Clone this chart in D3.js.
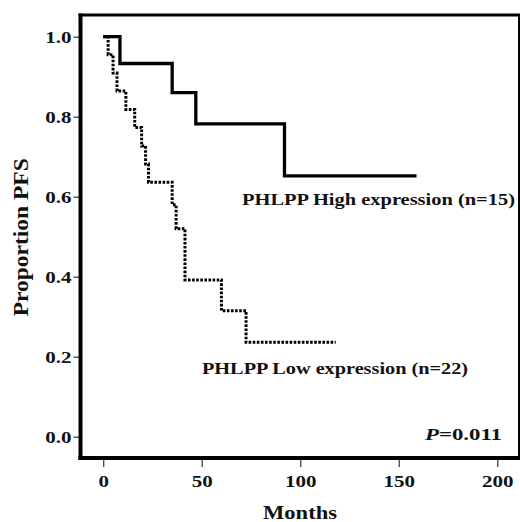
<!DOCTYPE html>
<html>
<head>
<meta charset="utf-8">
<script src="https://cdn.jsdelivr.net/npm/d3@7"></script>
<style>
  html, body { margin: 0; padding: 0; background: #fff; }
  svg { display: block; }
  text { font-family: "Liberation Serif", "Times New Roman", serif; font-weight: bold; fill: #111; }
</style>
</head>
<body>
<svg id="chart" width="520" height="522"></svg>
<script>
// ---- data ----
const highTimes = [0, 8.5, 35, 47, 92];
const highSurv  = [1.0, 0.933, 0.860, 0.782, 0.652];
const highEnd   = 159;

const lowTimes = [0, 2.5, 5, 7, 11.5, 16, 19.5, 21.5, 23, 35, 37, 41.5, 60, 72.5];
const lowSurv  = [1.0, 0.955, 0.909, 0.864, 0.818, 0.773, 0.727, 0.682, 0.636, 0.580, 0.520, 0.392, 0.315, 0.236];
const lowEnd   = 118;

const xTicks = [0, 50, 100, 150, 200];
const yTicks = [0.0, 0.2, 0.4, 0.6, 0.8, 1.0];

const highLabel = "PHLPP High expression (n=15)";
const lowLabel  = "PHLPP Low expression (n=22)";
const pLabel    = "=0.011";
const xTitle = "Months";
const yTitle = "Proportion PFS";

// ---- layout ----
const svg = d3.select("#chart");
const frame = { left: 80.5, right: 519, top: 15, bottom: 458 };
const x = d3.scaleLinear().domain([0, 200]).range([103.2, 497.3]);
const y = d3.scaleLinear().domain([0, 1]).range([436.7, 36.7]);
const SX = 1.2; // horizontal stretch of the original image text

function stretch(sel) {
  sel.attr("transform", function() {
    const tx = +this.getAttribute("x") || 0;
    return `translate(${tx},0) scale(${SX},1) translate(${-tx},0)`;
  });
}

// axes
const yAxis = d3.axisLeft(y).tickValues(yTicks).tickFormat(d3.format(".1f")).tickSize(7).tickPadding(2);
const gy = svg.append("g").attr("transform", `translate(${frame.left},0)`).call(yAxis);
gy.select(".domain").remove();
gy.selectAll(".tick line").attr("stroke", "#444").attr("stroke-width", 1.3);
gy.selectAll(".tick text").attr("font-size", 17.5).attr("font-family", null).call(stretch);

const xAxis = d3.axisBottom(x).tickValues(xTicks).tickSize(9).tickPadding(7.6);
const gx = svg.append("g").attr("transform", `translate(0,${frame.bottom})`).call(xAxis);
gx.select(".domain").remove();
gx.selectAll(".tick line").attr("stroke", "#444").attr("stroke-width", 1.3);
gx.selectAll(".tick text").attr("font-size", 17.5).attr("font-family", null).call(stretch);

// frame
svg.append("line").attr("x1", frame.left).attr("x2", frame.left).attr("y1", frame.top - 1.5).attr("y2", frame.bottom + 2)
  .attr("stroke", "#000").attr("stroke-width", 4);
svg.append("line").attr("x1", frame.left - 2).attr("x2", frame.right + 1).attr("y1", frame.bottom).attr("y2", frame.bottom)
  .attr("stroke", "#000").attr("stroke-width", 4);
svg.append("line").attr("x1", frame.left - 2).attr("x2", frame.right + 1).attr("y1", frame.top).attr("y2", frame.top)
  .attr("stroke", "#000").attr("stroke-width", 3);
svg.append("line").attr("x1", frame.right).attr("x2", frame.right).attr("y1", frame.top).attr("y2", frame.bottom)
  .attr("stroke", "#000").attr("stroke-width", 2);

// curves
const line = d3.line().x(d => x(d[0])).y(d => y(d[1])).curve(d3.curveStepAfter);
const highPts = highTimes.map((t, i) => [t, highSurv[i]]).concat([[highEnd, highSurv[highSurv.length - 1]]]);
const lowPts  = lowTimes.map((t, i) => [t, lowSurv[i]]).concat([[lowEnd, lowSurv[lowSurv.length - 1]]]);

svg.append("path").datum(lowPts).attr("d", line)
  .attr("fill", "none").attr("stroke", "#000").attr("stroke-width", 3)
  .attr("stroke-dasharray", "2.6,1.5");
svg.append("path").datum(highPts).attr("d", line)
  .attr("fill", "none").attr("stroke", "#000").attr("stroke-width", 3.3)
  .attr("stroke-linejoin", "miter");

// annotations
svg.append("text").attr("x", 242).attr("y", 204.5).attr("font-size", 16.5)
  .attr("textLength", 273).attr("lengthAdjust", "spacingAndGlyphs").text(highLabel);
svg.append("text").attr("x", 202).attr("y", 373.5).attr("font-size", 16.5)
  .attr("textLength", 266).attr("lengthAdjust", "spacingAndGlyphs").text(lowLabel);

const pt = svg.append("text").attr("x", 425).attr("y", 439.5).attr("font-size", 16.5)
  .attr("textLength", 77).attr("lengthAdjust", "spacingAndGlyphs");
pt.append("tspan").attr("font-style", "italic").text("P");
pt.append("tspan").text(pLabel);

// axis titles
svg.append("text").attr("x", 263).attr("y", 519).attr("font-size", 19)
  .attr("textLength", 74).attr("lengthAdjust", "spacingAndGlyphs").text(xTitle);
svg.append("text").attr("transform", "translate(27.5,237.3) rotate(-90)").attr("text-anchor", "middle")
  .attr("font-size", 20).attr("textLength", 158).attr("lengthAdjust", "spacingAndGlyphs").text(yTitle);
</script>
</body>
</html>
